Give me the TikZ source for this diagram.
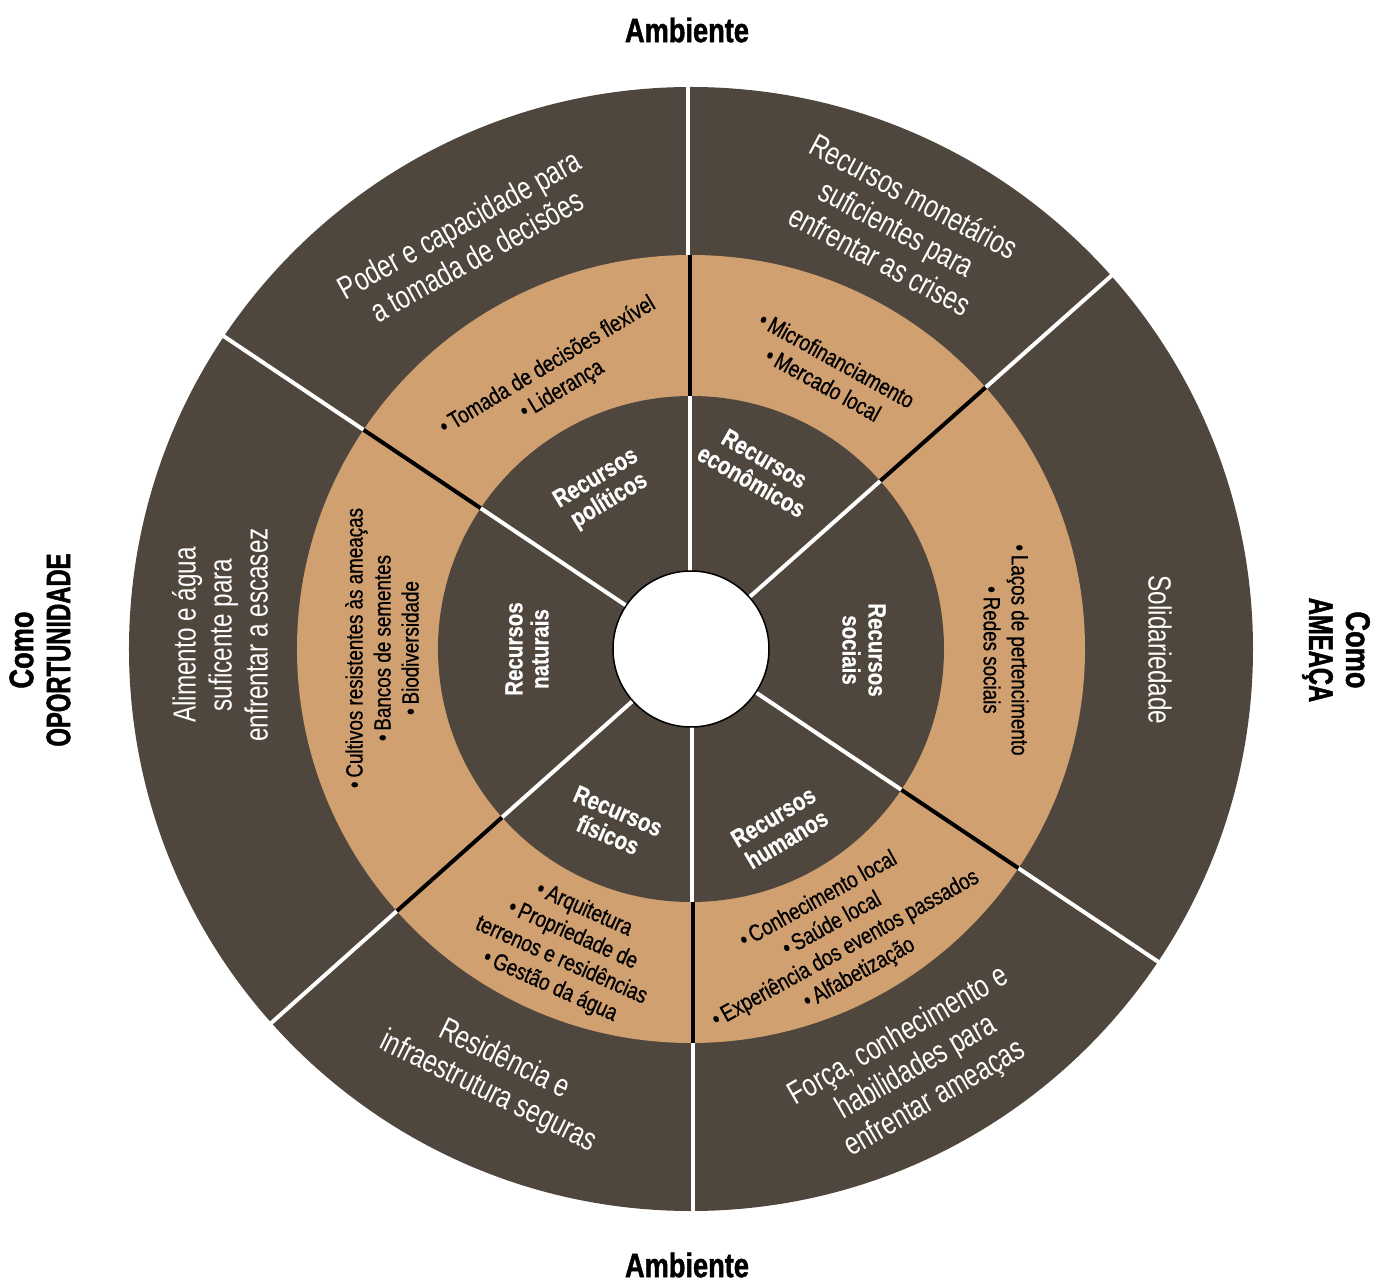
\documentclass[tikz,border=0pt]{standalone}
\usepackage{fontspec}
\setmainfont{Liberation Sans}
\newfontfamily\fouter{Liberation Sans}[FakeStretch=0.76]
\newfontfamily\fmid{Liberation Sans}[FakeStretch=0.80, FakeBold=0.8]
\newfontfamily\finner{Liberation Sans}[FakeStretch=0.82, FakeBold=0.6]
\newfontfamily\fheadA{Liberation Sans}[FakeStretch=0.80, FakeBold=1.4]
\newfontfamily\fheadB{Liberation Sans}[FakeStretch=0.70, FakeBold=1.4]
\definecolor{darkbrown}{RGB}{79,71,61}
\definecolor{tanring}{RGB}{208,160,113}
\begin{document}
\begin{tikzpicture}[x=1pt,y=1pt,
  outertxt/.style={text=white, font=\fouter\fontsize{32}{36}\selectfont, align=center, inner sep=0},
  midtxt/.style={text=black, font=\fmid\fontsize{23.5}{28}\selectfont, align=center, inner sep=0},
  innertxt/.style={text=white, font=\finner\bfseries\fontsize{25}{26}\selectfont, align=center, inner sep=0},
  headtxt/.style={text=black, font=\fheadA\bfseries\fontsize{34}{37}\selectfont, align=center, inner sep=0},
  whitediv/.style={draw=white, line width=4pt},
  blackdiv/.style={draw=black, line width=4pt},
]
\useasboundingbox (-691,-633) rectangle (682,649);
% rings
\fill[darkbrown] (0,0) circle[radius=562pt];
\fill[tanring] (0,0) circle[radius=394pt];
\fill[darkbrown] (0,0) circle[radius=253pt];
% dividers
\foreach \a in {41.6,-33.8,221.7,146.2} {
  \draw[whitediv] (\a:394) -- (\a:567);
  \draw[blackdiv] (\a:253) -- (\a:394);
  \draw[whitediv] (\a:70) -- (\a:253);
}
\draw[whitediv] (-3,394) -- (-3,567);
\draw[blackdiv] (-1,253) -- (-1,394);
\draw[whitediv] (-1,70) -- (-1,253);
\draw[whitediv] (2,-394) -- (2,-567);
\draw[blackdiv] (2,-253) -- (2,-394);
\draw[whitediv] (1,-70) -- (1,-253);
% centre
\draw[black, line width=1.5pt, fill=white] (0,0) circle[radius=78pt];
% outer ring texts
\node[outertxt, rotate=29] (opol) at (-223,409) {Poder e capacidade para\\a tomada de decisões};
\node[outertxt, rotate=-28] (oeco) at (206,421) {Recursos monetários\\suficientes para\\enfrentar as crises};
\node[outertxt, rotate=-90] (osoc) at (469,-1) {Solidariedade};
\node[outertxt, rotate=30] (ohum) at (226,-419) {Força, conhecimento e\\habilidades para\\enfrentar ameaças};
\node[outertxt, rotate=-26] (ofis) at (-195,-427) {Residência e\\infraestrutura seguras};
\node[outertxt, rotate=90] (onat) at (-471,14) {Alimento e água\\suficente para\\enfrentar a escasez};
% middle ring texts
\node[midtxt, rotate=31] (mpol) at (-136,271) {•\,Tomada de decisões flexível\\•\,Liderança};
\node[midtxt, rotate=-29] (meco) at (139,277) {•\,Microfinanciamento\\•\,Mercado local};
\node[midtxt, rotate=-90] (msoc) at (315,-1) {•\,Laços de pertencimento\\•\,Redes sociais};
\node[midtxt, rotate=29] (mhum) at (148,-288) {•\,Conhecimento local\\•\,Saúde local\\•\,Experiência dos eventos passados\\•\,Alfabetização};
\node[midtxt, rotate=-24] (mfis) at (-124,-299) {•\,Arquitetura\\•\,Propriedade de\\terrenos e residências\\•\,Gestão da água};
\node[midtxt, rotate=90] (mnat) at (-309,1) {•\,Cultivos resistentes às ameaças\\•\,Bancos de sementes\\•\,Biodiversidade};
% inner ring texts
\node[innertxt, rotate=31] (ipol) at (-88,159) {Recursos\\políticos};
\node[innertxt, rotate=-30] (ieco) at (67,179) {Recursos\\econômicos};
\node[innertxt, rotate=-90] (isoc) at (173,-1) {Recursos\\sociais};
\node[innertxt, rotate=31] (ihum) at (89,-179) {Recursos\\humanos};
\node[innertxt, rotate=-23] (ifis) at (-78,-174) {Recursos\\físicos};
\node[innertxt, rotate=90] (inat) at (-164,0) {Recursos\\naturais};
% headings
\node[headtxt] (ambtop) at (-4,619) {Ambiente};
\node[headtxt] (ambbot) at (-4,-616) {Ambiente};
\node[headtxt, rotate=90] (oport) at (-651,-1) {Como\\{\fheadB OPORTUNIDADE}};
\node[headtxt, rotate=-90] (ameaca) at (645,-1) {Como\\{\fheadB AMEAÇA}};
\end{tikzpicture}
\end{document}
